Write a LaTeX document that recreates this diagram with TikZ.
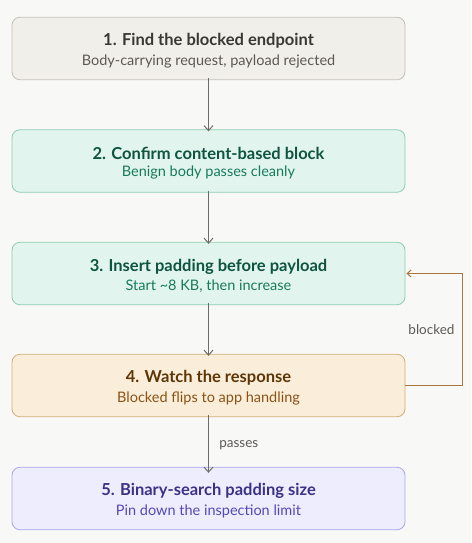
\documentclass[tikz,border=0pt]{standalone}
\usepackage{fontspec}
\setmainfont{Lato}
\usetikzlibrary{arrows.meta}
\definecolor{bg}{HTML}{F8F8F6}
\definecolor{fA}{HTML}{F1EFE9}\definecolor{dA}{HTML}{C5C1B8}\definecolor{tA}{HTML}{3A3833}\definecolor{sA}{HTML}{5C5954}
\definecolor{fB}{HTML}{E1F5EE}\definecolor{dB}{HTML}{8ECDB6}\definecolor{tB}{HTML}{0E5440}\definecolor{sB}{HTML}{177A5B}
\definecolor{fD}{HTML}{FAEEDB}\definecolor{dD}{HTML}{D8AE78}\definecolor{tD}{HTML}{5E3606}\definecolor{sD}{HTML}{8A5214}
\definecolor{fE}{HTML}{EEEDFD}\definecolor{dE}{HTML}{ADA7EA}\definecolor{tE}{HTML}{3A3287}\definecolor{sE}{HTML}{5349B8}
\definecolor{arr}{HTML}{6E6C67}\definecolor{loop}{HTML}{A7773F}
\tikzset{
  stepbox/.style={draw, rounded corners=8pt, line width=0.8pt, minimum width=393pt, minimum height=62.5pt, align=center, inner sep=0pt},
  flow/.style={draw=arr, line width=1pt, -{Straight Barb[length=5pt,width=9pt]}},
  lbl/.style={font=\fontsize{13.5}{16}\selectfont, text=sA}
}
\begin{document}
\begin{tikzpicture}[x=1pt,y=-1pt]
\fill[bg] (0,0) rectangle (471,543);
\useasboundingbox (0,0) rectangle (471,543);
\newcommand{\boxtext}[4]{{\color{#1}\fontsize{16.5}{19}\selectfont\bfseries\rule{0pt}{17pt}#2}\\[5pt]{\color{#3}\fontsize{14.5}{17}\selectfont #4}}
\node[stepbox, fill=fA, draw=dA] (s1) at (208.5,48.5) {\boxtext{tA}{1. Find the blocked endpoint}{sA}{Body-carrying request, payload rejected}};
\node[stepbox, fill=fB, draw=dB] (s2) at (208.5,161) {\boxtext{tB}{2. Confirm content-based block}{sB}{Benign body passes cleanly}};
\node[stepbox, fill=fB, draw=dB] (s3) at (208.5,273.5) {\boxtext{tB}{3. Insert padding before payload}{sB}{Start \textasciitilde8 KB, then increase}};
\node[stepbox, fill=fD, draw=dD] (s4) at (208.5,385.5) {\boxtext{tD}{4. Watch the response}{sD}{Blocked flips to app handling}};
\node[stepbox, fill=fE, draw=dE] (s5) at (208.5,498.5) {\boxtext{tE}{5. Binary-search padding size}{sE}{Pin down the inspection limit}};
\draw[flow] ([yshift=2pt]s1.south) -- ([yshift=-2pt]s2.north);
\draw[flow] ([yshift=2pt]s2.south) -- ([yshift=-2pt]s3.north);
\draw[flow] ([yshift=2pt]s3.south) -- ([yshift=-2pt]s4.north);
\draw[flow] ([yshift=2pt]s4.south) -- node[lbl, right=7pt, pos=0.52] (lp) {passes} ([yshift=-6pt]s5.north);
\coordinate (c1) at (462,385.5);
\coordinate (c2) at (462,273.5);
\draw[draw=loop, line width=1pt, -{Straight Barb[length=4pt,width=7pt]}] (s4.east) -- (c1) -- (c2) -- ([xshift=1pt]s3.east);
\node[lbl, anchor=east] (lb) at (458,330) {blocked};
\end{tikzpicture}
\end{document}
